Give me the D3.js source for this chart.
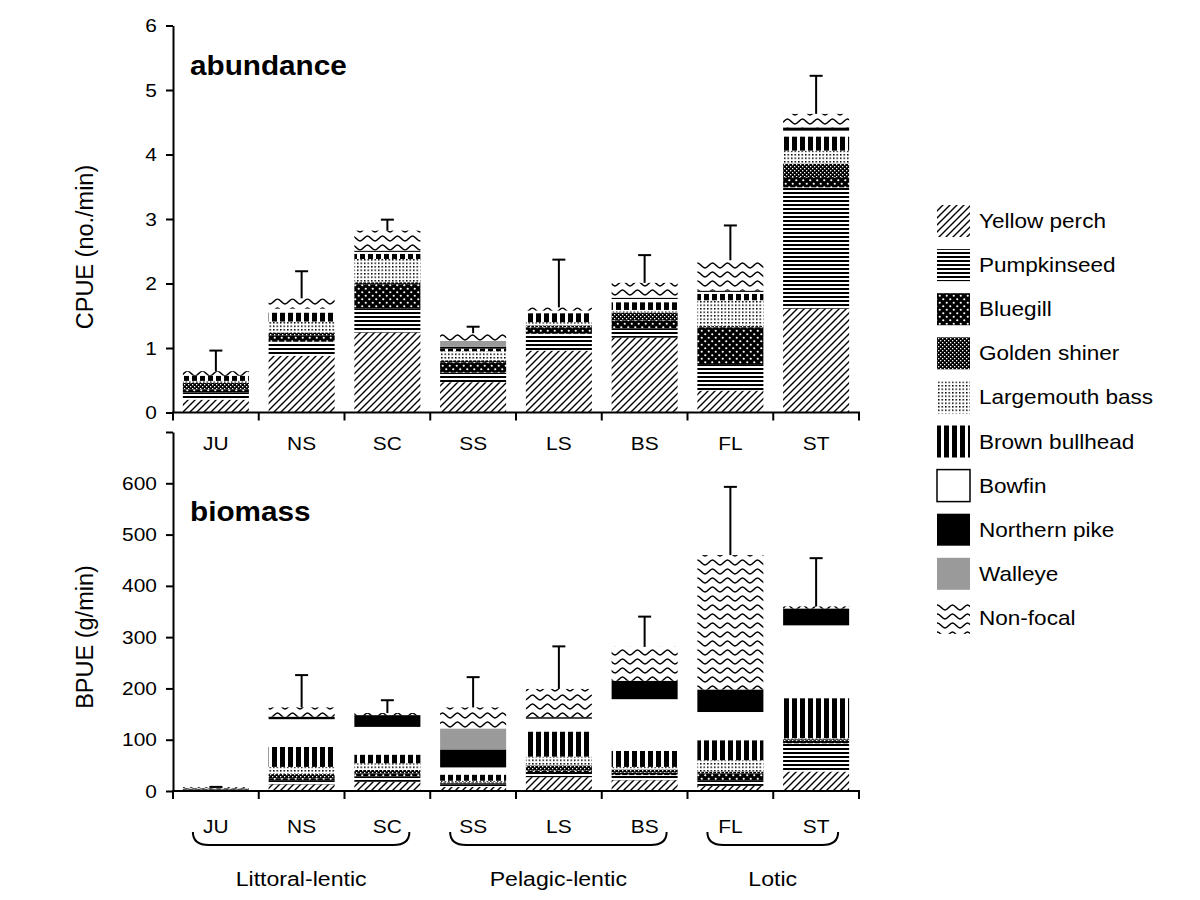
<!DOCTYPE html>
<html><head><meta charset="utf-8">
<script src="https://cdn.jsdelivr.net/npm/d3@7"></script>
<style>
body{margin:0;background:#fff}
text{font-family:Arial,"Liberation Sans",Helvetica,sans-serif;fill:#000}
</style>
</head><body>
<svg id="c" width="1200" height="900"></svg>
<script>
// ---------------- DATA ----------------
const categories = ["JU","NS","SC","SS","LS","BS","FL","ST"];
const species = ["Yellow perch","Pumpkinseed","Bluegill","Golden shiner","Largemouth bass",
                 "Brown bullhead","Bowfin","Northern pike","Walleye","Non-focal"];
const groups = ["Littoral-lentic","Pelagic-lentic","Lotic"];
const groupMembers = [["JU","SC"],["SS","BS"],["FL","ST"]];

// abundance, CPUE (no./min); columns follow `categories`
const abundanceYellowPerch    = [0.20,0.88,1.24,0.47,0.96,1.16,0.34,1.61];
const abundancePumpkinseed    = [0.11,0.22,0.37,0.15,0.26,0.14,0.41,1.88];
const abundanceBluegill       = [0.05,0.09,0.38,0.16,0.10,0.13,0.57,0.16];
const abundanceGoldenShiner   = [0.10,0.05,0.03,0.03,0.03,0.12,0.02,0.21];
const abundanceLargemouth     = [0.03,0.17,0.36,0.14,0.05,0.04,0.40,0.20];
const abundanceBrownBullhead  = [0.08,0.14,0.08,0.04,0.14,0.12,0.10,0.22];
const abundanceBowfin         = [0.00,0.06,0.03,0.00,0.04,0.05,0.03,0.09];
const abundanceNorthernPike   = [0.00,0.00,0.02,0.03,0.00,0.02,0.02,0.05];
const abundanceWalleye        = [0.00,0.00,0.00,0.09,0.00,0.00,0.00,0.00];
const abundanceNonFocal       = [0.07,0.16,0.31,0.12,0.05,0.23,0.47,0.21];
const abundanceError          = [0.32,0.42,0.17,0.10,0.74,0.43,0.54,0.59];

// biomass, BPUE (g/min)
const biomassYellowPerch    = [2.0,13,18, 8,27, 21, 10, 38];
const biomassPumpkinseed    = [1.0, 8,10, 5,10, 10, 10, 55];
const biomassBluegill       = [0.5, 4, 6, 2, 3,  5, 14,  5];
const biomassGoldenShiner   = [1.0, 8, 7, 2,10,  6,  4,  3];
const biomassLargemouth     = [0.5,14,13, 3,17,  5, 22,  2];
const biomassBrownBullhead  = [1.0,39,17,12,49, 31, 39, 78];
const biomassBowfin         = [0.0,54,54,14,25,101, 55,142];
const biomassNorthernPike   = [0.0, 5,23,35, 3, 36, 44, 33];
const biomassWalleye        = [0.0, 0, 0,41, 0,  0,  0,  0];
const biomassNonFocal       = [1.5,18, 4,41,55, 66,262,  4];
const biomassError          = [0.5,63,25,59,83, 59,133, 94];

const abundanceTicks = [0,1,2,3,4,5,6];
const biomassTicks = [0,100,200,300,400,500,600,700];
const biomassTickLabels = ["0","100","200","300","400","500","600",""];

const abundanceSeries = [abundanceYellowPerch,abundancePumpkinseed,abundanceBluegill,abundanceGoldenShiner,
  abundanceLargemouth,abundanceBrownBullhead,abundanceBowfin,abundanceNorthernPike,abundanceWalleye,abundanceNonFocal];
const biomassSeries = [biomassYellowPerch,biomassPumpkinseed,biomassBluegill,biomassGoldenShiner,
  biomassLargemouth,biomassBrownBullhead,biomassBowfin,biomassNorthernPike,biomassWalleye,biomassNonFocal];

// ---------------- DRAWING ----------------
const SX = 1.1; // horizontal text stretch of the original figure
const svg = d3.select("#c");
const defs = svg.append("defs");

function pat(id, w, h, build){
  const p = defs.append("pattern").attr("id", id).attr("patternUnits","userSpaceOnUse")
    .attr("width", w).attr("height", h);
  build(p);
}
pat("p0", 7, 7, p => {
  p.append("rect").attr("width",7).attr("height",7).attr("fill","#fff");
  p.append("path").attr("d","M0,7 L7,0 M-1,1 L1,-1 M6,8 L8,6").attr("stroke","#000").attr("stroke-width",1.4);
});
pat("p1", 4, 4, p => {
  p.append("rect").attr("width",4).attr("height",4).attr("fill","#fff");
  p.append("rect").attr("width",4).attr("height",2).attr("fill","#000");
});
pat("p2", 7, 7, p => {
  p.append("rect").attr("width",7).attr("height",7).attr("fill","#000");
  p.append("circle").attr("cx",1.75).attr("cy",1.75).attr("r",1.1).attr("fill","#fff");
  p.append("circle").attr("cx",5.25).attr("cy",5.25).attr("r",1.1).attr("fill","#fff");
});
pat("p3", 4, 4, p => {
  p.append("rect").attr("width",4).attr("height",4).attr("fill","#000");
  p.append("rect").attr("x",0).attr("y",0).attr("width",1.3).attr("height",1.3).attr("fill","#fff");
  p.append("rect").attr("x",2).attr("y",2).attr("width",1.3).attr("height",1.3).attr("fill","#fff");
});
pat("p4", 3.5, 3.5, p => {
  p.append("rect").attr("width",3.5).attr("height",3.5).attr("fill","#fff");
  p.append("rect").attr("width",1.5).attr("height",1.5).attr("fill","#000");
});
pat("p5", 8, 8, p => {
  p.append("rect").attr("width",8).attr("height",8).attr("fill","#fff");
  p.append("rect").attr("width",5).attr("height",8).attr("fill","#000");
});
pat("p9", 15, 9, p => {
  p.append("rect").attr("width",15).attr("height",9).attr("fill","#fff");
  p.append("path").attr("d","M0,7 C2.5,7 5,2 7.5,2 C10,2 12.5,7 15,7")
    .attr("fill","none").attr("stroke","#000").attr("stroke-width",1.6);
});
const fills = ["url(#p0)","url(#p1)","url(#p2)","url(#p3)","url(#p4)","url(#p5)","#fff","#000","#9a9a9a","url(#p9)"];

function txt(parent, x, y, s, size, anchor, weight){
  return parent.append("text")
    .attr("transform", `translate(${x},${y}) scale(${SX},1)`)
    .attr("text-anchor", anchor || "start")
    .attr("font-size", size)
    .attr("font-weight", weight || "normal")
    .text(s);
}

const x = d3.scaleBand().domain(categories).range([173, 859]).paddingInner(0.23).paddingOuter(0.115);
const half = (x.step() - x.bandwidth()) / 2;

function panel(cfg){
  const y = d3.scaleLinear().domain(cfg.domain).range(cfg.range);
  const g = svg.append("g");
  const rows = categories.map((c, i) => {
    const r = {cat: c};
    species.forEach((s, k) => r[s] = cfg.series[k][i]);
    return r;
  });
  const stacked = d3.stack().keys(species)(rows);
  stacked.forEach((layer, k) => {
    g.append("g").selectAll("rect").data(layer).join("rect")
      .attr("x", d => x(d.data.cat))
      .attr("width", x.bandwidth())
      .attr("y", d => y(d[1]))
      .attr("height", d => Math.max(0, y(d[0]) - y(d[1])))
      .attr("fill", fills[k]);
  });
  // error bars
  const totals = categories.map((c, i) => d3.sum(cfg.series, s => s[i]));
  const eb = g.append("g").attr("stroke","#000").attr("stroke-width",2);
  categories.forEach((c, i) => {
    const cx = x(c) + x.bandwidth()/2;
    const y0 = y(totals[i]), y1 = y(totals[i] + cfg.error[i]);
    eb.append("line").attr("x1",cx).attr("x2",cx).attr("y1",y0).attr("y2",y1);
    eb.append("line").attr("x1",cx-6.5).attr("x2",cx+6.5).attr("y1",y1).attr("y2",y1);
  });
  // y axis
  const ax = g.append("g").attr("transform","translate(173,0)")
    .call(d3.axisLeft(y).tickValues(cfg.ticks).tickSize(7).tickSizeOuter(0).tickFormat(() => ""));
  ax.select(".domain").attr("stroke-width",2);
  ax.selectAll(".tick line").attr("stroke-width",2);
  cfg.ticks.forEach((t, i) => {
    txt(g, 157, y(t) + 6.5, cfg.tickLabels[i], 19, "end");
  });
  // x axis
  const y0 = y(0);
  const xa = g.append("g").attr("stroke","#000").attr("stroke-width",2);
  xa.append("line").attr("x1",172).attr("x2",860).attr("y1",y0).attr("y2",y0);
  const bounds = categories.map(c => x(c) - half).concat([x(categories[categories.length-1]) + x.bandwidth() + half]);
  bounds.forEach(b => xa.append("line").attr("x1",b).attr("x2",b).attr("y1",y0).attr("y2",y0 + 8));
  categories.forEach(c => txt(g, x(c) + x.bandwidth()/2, cfg.catY, c, 19, "middle"));
  // titles
  txt(g, 190, cfg.titleY, cfg.title, 27, "start", "bold");
  g.append("text").attr("transform", `translate(93,${cfg.labelY}) rotate(-90)`)
    .attr("text-anchor","middle").attr("font-size",23.5).text(cfg.label);
}

panel({domain:[0,6], range:[412.5,25.5], series:abundanceSeries, error:abundanceError,
  ticks:abundanceTicks, tickLabels:abundanceTicks.map(String), catY:450, title:"abundance", titleY:75,
  label:"CPUE (no./min)", labelY:247});
panel({domain:[0,700], range:[791,432], series:biomassSeries, error:biomassError,
  ticks:biomassTicks, tickLabels:biomassTickLabels, catY:833, title:"biomass", titleY:521,
  label:"BPUE (g/min)", labelY:637});

// group braces
groups.forEach((gname, i) => {
  const a = x(groupMembers[i][0]) + x.bandwidth()/2 - 23;
  const b = x(groupMembers[i][1]) + x.bandwidth()/2 + 22;
  const top = 832, bot = 845, r = 16;
  svg.append("path")
    .attr("d", `M${a},${top} Q${a},${bot} ${a+r},${bot} L${b-r},${bot} Q${b},${bot} ${b},${top}`)
    .attr("fill","none").attr("stroke","#000").attr("stroke-width",2);
  txt(svg, (a + b)/2, 886, gname, 21, "middle");
});

// legend
const lg = svg.append("g");
species.forEach((s, k) => {
  const yy = 205 + k * 44.1;
  lg.append("rect").attr("x",937).attr("y",yy).attr("width",33).attr("height",32)
    .attr("fill", fills[k])
    .attr("stroke", s === "Bowfin" ? "#000" : "none").attr("stroke-width",1.5);
  txt(lg, 979, yy + 23, s, 20.5, "start");
});
</script>
</body></html>
